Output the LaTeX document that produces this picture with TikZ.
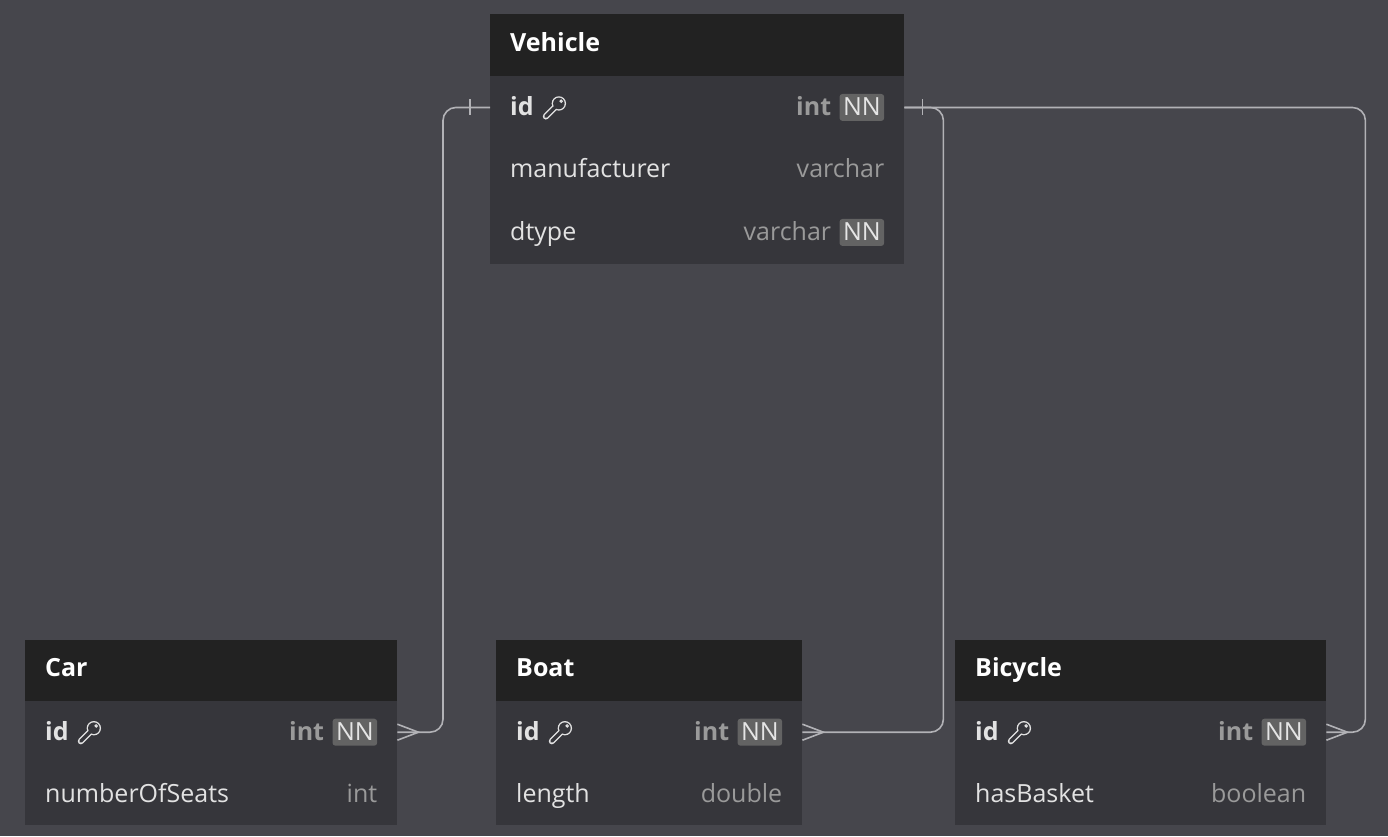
\documentclass[tikz,border=0pt]{standalone}
\usepackage{fontspec}
\setmainfont{Open Sans}
\usetikzlibrary{positioning}

\definecolor{bgcol}{HTML}{46464C}
\definecolor{rowcol}{HTML}{36363B}
\definecolor{headcol}{HTML}{222222}
\definecolor{linecol}{HTML}{B2B2B6}
\definecolor{namecol}{HTML}{E2E2E2}
\definecolor{typecol}{HTML}{9A9A9A}
\definecolor{nncol}{HTML}{636363}

\tikzset{
  head/.style={fill=headcol, anchor=north west, minimum height=62, inner sep=0pt},
  row/.style={fill=rowcol, anchor=north west, minimum height=62.5, inner sep=0pt},
  title/.style={text=white, font=\fontsize{25}{29}\selectfont\bfseries, inner sep=0pt, text height=17pt, text depth=5pt},
  colname/.style={text=namecol, font=\fontsize{25}{29}\selectfont, inner sep=0pt, text height=20pt, text depth=4pt},
  pkname/.style={colname, font=\fontsize{25}{29}\selectfont\bfseries},
  coltype/.style={text=typecol, font=\fontsize{25}{29}\selectfont, inner sep=0pt, text height=20pt, text depth=4pt},
  pktype/.style={coltype, font=\fontsize{25}{29}\selectfont\bfseries},
  nn/.style={fill=nncol, text=namecol!90, rounded corners=3pt, font=\fontsize{25}{29}\selectfont,
    inner xsep=3.5pt, inner ysep=0pt, text height=21.5pt, text depth=5.5pt},
  conn/.style={draw=linecol, line width=1.6pt, rounded corners=13pt},
  crow/.style={draw=linecol, line width=1.6pt},
  keyicon/.pic={
    \fill[namecol] (6,-6) circle (7.2);
    \draw[namecol, line width=6.2pt, line cap=round] (2,-2) -- (-7,7);
    \fill[rowcol] (6,-6) circle (5.8);
    \draw[rowcol, line width=3.4pt, line cap=round] (2,-2) -- (-7,7);
    \draw[namecol, line width=1.1pt] (8.3,-8.3) circle (1.2);
  }
}

\begin{document}
\begin{tikzpicture}[x=1pt, y=-1pt]
\useasboundingbox (0,0) rectangle (1388,836);
\fill[bgcol] (0,0) rectangle (1388,836);

%Vehicle table
\node[head, minimum width=414] (vehicle) at (490,14) {};
\node[title, right=20pt of vehicle.west] {Vehicle};
\node[row, minimum width=414] (vid) at (490,76) {};
\node[pkname, right=20pt of vid.west] (vid-name) {id};
\pic at ([xshift=19pt,yshift=-2pt]vid-name.east) {keyicon};
\node[nn, left=20pt of vid.east] (vid-nn) {NN};
\node[pktype, left=8pt of vid-nn] {int};
\node[row, minimum width=414] (vman) at (490,138.5) {};
\node[colname, right=20pt of vman.west] {manufacturer};
\node[coltype, left=20pt of vman.east] {varchar};
\node[row, minimum width=414] (vdtype) at (490,201) {};
\node[colname, right=20pt of vdtype.west] {dtype};
\node[nn, left=20pt of vdtype.east] (vdtype-nn) {NN};
\node[coltype, left=8pt of vdtype-nn] {varchar};

%Car table
\node[head, minimum width=372, minimum height=61] (car) at (25,640) {};
\node[title, right=20pt of car.west] {Car};
\node[row, minimum width=372, minimum height=62] (carid) at (25,701) {};
\node[pkname, right=20pt of carid.west] (carid-name) {id};
\pic at ([xshift=19pt,yshift=-2pt]carid-name.east) {keyicon};
\node[nn, left=20pt of carid.east] (carid-nn) {NN};
\node[pktype, left=8pt of carid-nn] {int};
\node[row, minimum width=372, minimum height=62] (carseats) at (25,763) {};
\node[colname, right=20pt of carseats.west] {numberOfSeats};
\node[coltype, left=20pt of carseats.east] {int};

%Boat table
\node[head, minimum width=306, minimum height=61] (boat) at (496,640) {};
\node[title, right=20pt of boat.west] {Boat};
\node[row, minimum width=306, minimum height=62] (boatid) at (496,701) {};
\node[pkname, right=20pt of boatid.west] (boatid-name) {id};
\pic at ([xshift=19pt,yshift=-2pt]boatid-name.east) {keyicon};
\node[nn, left=20pt of boatid.east] (boatid-nn) {NN};
\node[pktype, left=8pt of boatid-nn] {int};
\node[row, minimum width=306, minimum height=62] (boatlen) at (496,763) {};
\node[colname, right=20pt of boatlen.west] {length};
\node[coltype, left=20pt of boatlen.east] {double};

%Bicycle table
\node[head, minimum width=371, minimum height=61] (bicycle) at (955,640) {};
\node[title, right=20pt of bicycle.west] {Bicycle};
\node[row, minimum width=371, minimum height=62] (bikeid) at (955,701) {};
\node[pkname, right=20pt of bikeid.west] (bikeid-name) {id};
\pic at ([xshift=19pt,yshift=-2pt]bikeid-name.east) {keyicon};
\node[nn, left=20pt of bikeid.east] (bikeid-nn) {NN};
\node[pktype, left=8pt of bikeid-nn] {int};
\node[row, minimum width=371, minimum height=62] (bikebasket) at (955,763) {};
\node[colname, right=20pt of bikebasket.west] {hasBasket};
\node[coltype, left=20pt of bikebasket.east] {boolean};

%connectors
\draw[conn] (vid.west) -- ++(-47,0) |- (carid.east);
\draw[conn] (vid.east) -- ++(39,0) |- (boatid.east);
\draw[conn] (vid.east) -- ++(461,0) |- (bikeid.east);
%one ends
\draw[crow] ([xshift=-20pt,yshift=8pt]vid.west) -- ([xshift=-20pt,yshift=-8pt]vid.west);
\draw[crow] ([xshift=18pt,yshift=8pt]vid.east) -- ([xshift=18pt,yshift=-8pt]vid.east);
%many ends
\draw[crow] ([yshift=8pt]carid.east) -- ([xshift=21pt]carid.east) -- ([yshift=-8pt]carid.east);
\draw[crow] ([yshift=8pt]boatid.east) -- ([xshift=21pt]boatid.east) -- ([yshift=-8pt]boatid.east);
\draw[crow] ([yshift=8pt]bikeid.east) -- ([xshift=21pt]bikeid.east) -- ([yshift=-8pt]bikeid.east);
\end{tikzpicture}
\end{document}
